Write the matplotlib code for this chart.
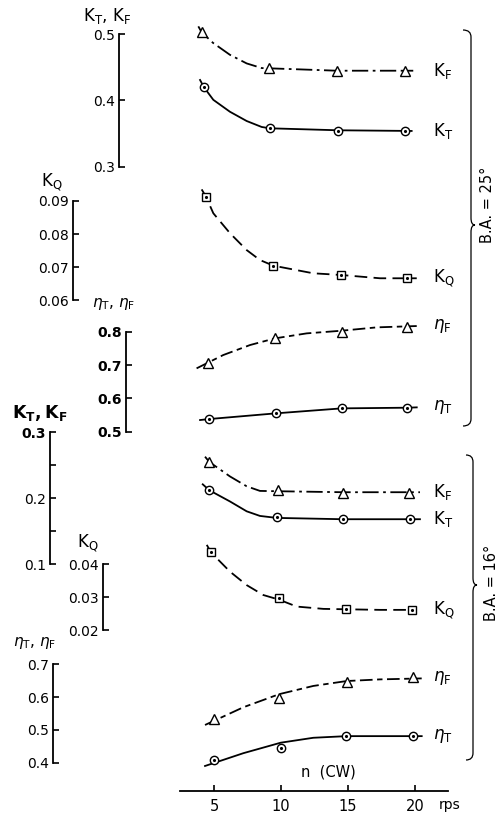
import matplotlib.pyplot as plt
from matplotlib.path import Path
from matplotlib.patches import PathPatch
from matplotlib.transforms import Affine2D


# ---- data (n in rps) ----
# B.A. = 25 deg
kf25_n = [4.08, 9.10, 14.16, 19.25]
kf25 = [0.503, 0.449, 0.445, 0.445]
kf25_fit_n = [3.83, 4.08, 4.93, 6.19, 7.44, 8.56, 11.42, 14.16, 19.87]
kf25_fit = [0.512, 0.503, 0.487, 0.469, 0.456, 0.449, 0.447, 0.445, 0.445]

kt25_n = [4.25, 9.18, 14.28, 19.25]
kt25 = [0.420, 0.358, 0.354, 0.354]
kt25_fit_n = [3.96, 4.25, 4.95, 6.19, 7.44, 8.56, 9.18, 14.28, 19.75]
kt25_fit = [0.431, 0.420, 0.401, 0.383, 0.369, 0.360, 0.358, 0.355, 0.354]

kq25_n = [4.40, 9.43, 14.48, 19.38]
kq25 = [0.0913, 0.0705, 0.0677, 0.0667]
kq25_fit_n = [4.08, 4.40, 4.95, 6.19, 7.44, 8.43, 9.43, 12.41, 14.48, 17.39, 20.13]
kq25_fit = [0.0935, 0.0913, 0.0863, 0.0803, 0.0752, 0.0722, 0.0705, 0.0682, 0.0677, 0.0667, 0.0667]

etaf25_n = [4.57, 9.55, 14.53, 19.43]
etaf25 = [0.707, 0.780, 0.800, 0.815]
etaf25_fit_n = [3.70, 5.69, 7.69, 9.55, 11.92, 14.53, 17.14, 20.13]
etaf25_fit = [0.690, 0.730, 0.760, 0.780, 0.795, 0.803, 0.813, 0.817]

etat25_n = [4.65, 9.60, 14.53, 19.43]
etat25 = [0.538, 0.555, 0.570, 0.572]
etat25_fit_n = [3.96, 4.65, 9.60, 14.53, 19.43, 20.13]
etat25_fit = [0.535, 0.538, 0.555, 0.570, 0.572, 0.573]

# B.A. = 16 deg
kf16_n = [4.65, 9.75, 14.65, 19.57]
kf16 = [0.255, 0.212, 0.208, 0.208]
kf16_fit_n = [4.33, 4.65, 6.19, 7.44, 8.43, 9.75, 14.65, 20.37]
kf16_fit = [0.263, 0.255, 0.233, 0.218, 0.211, 0.2105, 0.209, 0.209]

kt16_n = [4.65, 9.68, 14.60, 19.63]
kt16 = [0.212, 0.172, 0.168, 0.168]
kt16_fit_n = [4.16, 4.65, 6.19, 7.44, 8.43, 9.68, 14.60, 20.37]
kt16_fit = [0.221, 0.212, 0.195, 0.180, 0.173, 0.170, 0.168, 0.168]

kq16_n = [4.78, 9.85, 14.83, 19.80]
kq16 = [0.0435, 0.0296, 0.0264, 0.0261]
kq16_fit_n = [4.46, 4.78, 6.19, 7.44, 8.68, 9.85, 11.17, 13.16, 17.39, 20.13]
kq16_fit = [0.0458, 0.0435, 0.0377, 0.0336, 0.0306, 0.0292, 0.0271, 0.0264, 0.0261, 0.0261]

etaf16_n = [5.0, 9.87, 14.9, 19.83]
etaf16 = [0.532, 0.596, 0.647, 0.660]
etaf16_fit_n = [4.33, 7.19, 9.87, 12.41, 14.9, 17.39, 20.5]
etaf16_fit = [0.515, 0.569, 0.609, 0.634, 0.649, 0.654, 0.657]

etat16_n = [5.0, 9.98, 14.85, 19.83]
etat16 = [0.408, 0.444, 0.481, 0.481]
etat16_fit_n = [4.33, 7.19, 9.98, 12.41, 14.9, 20.5]
etat16_fit = [0.390, 0.429, 0.461, 0.476, 0.481, 0.481]

x_ticks = [5, 10, 15, 20]

# line styles
ls_kf = (0, (9, 2.5, 1.5, 2.5))
ls_kq = (0, (7, 3.5))
ls_etaf = (0, (7, 2.5, 3, 2.5))

W, H = 501, 813
fig = plt.figure(figsize=(W / 100, H / 100), dpi=100)
# pixel coordinates (origin top left) -> figure
px = Affine2D().scale(1 / W, -1 / H).translate(0, 1) + fig.transFigure

AX_L, AX_R = 180, 448
x_lim = (2.463, 22.463)


def make_scale(top, bottom, lo, hi, spine_x, ticks, labels, bold=False):
    ax = fig.add_axes([AX_L / W, 1 - bottom / H, (AX_R - AX_L) / W, (bottom - top) / H])
    ax.patch.set_visible(False)
    ax.set_xlim(*x_lim)
    ax.set_ylim(lo, hi)
    for s in ['top', 'right', 'bottom']:
        ax.spines[s].set_visible(False)
    ax.spines['left'].set_position(('axes', (spine_x - AX_L) / (AX_R - AX_L)))
    ax.spines['left'].set_linewidth(1.3)
    ax.set_xticks([])
    ax.set_yticks(ticks)
    ax.set_yticklabels(labels, fontweight='bold' if bold else 'normal')
    ax.tick_params(axis='y', direction='in', length=4, width=1.2, pad=3, labelsize=10)
    return ax


def draw(ax, fit_n, fit_v, n, v, marker, ls, label):
    ax.plot(fit_n, fit_v, color='black', lw=1.3, linestyle=ls, clip_on=False, zorder=2)
    ax.plot(n, v, linestyle='none', marker=marker, ms=6 if marker != '^' else 6.5,
            mfc='white', mec='black', mew=1, clip_on=False, zorder=3)
    if marker in ('o', 's'):
        ax.plot(n, v, linestyle='none', marker='.', ms=2.5, color='black', clip_on=False, zorder=4)
    ax.text(21.35, fit_v[-1], label, ha='left', va='center', fontsize=12)


ax1 = make_scale(34.3, 166.7, 0.3, 0.5, 119.5, [0.3, 0.4, 0.5], ['0.3', '0.4', '0.5'])
ax2 = make_scale(201, 300.5, 0.06, 0.09, 72.7, [0.06, 0.07, 0.08, 0.09],
                 ['0.06', '0.07', '0.08', '0.09'])
ax3 = make_scale(331.7, 431.7, 0.5, 0.8, 126, [0.5, 0.6, 0.7, 0.8],
                 ['0.5', '0.6', '0.7', '0.8'], bold=True)
ax4 = make_scale(432.3, 564, 0.1, 0.3, 50, [0.1, 0.15, 0.2, 0.25, 0.3],
                 ['0.1', '', '0.2', '', '0.3'])
ax5 = make_scale(564, 630, 0.02, 0.04, 103.3, [0.02, 0.03, 0.04], ['0.02', '0.03', '0.04'])
ax6 = make_scale(664.3, 762.7, 0.4, 0.7, 53.3, [0.4, 0.5, 0.6, 0.7], ['0.4', '0.5', '0.6', '0.7'])
ax4.get_yticklabels()[-1].set_fontweight('bold')

draw(ax1, kf25_fit_n, kf25_fit, kf25_n, kf25, '^', ls_kf, r'K$_{\rm F}$')
draw(ax1, kt25_fit_n, kt25_fit, kt25_n, kt25, 'o', '-', r'K$_{\rm T}$')
draw(ax2, kq25_fit_n, kq25_fit, kq25_n, kq25, 's', ls_kq, r'K$_{\rm Q}$')
draw(ax3, etaf25_fit_n, etaf25_fit, etaf25_n, etaf25, '^', ls_etaf, r'$\eta_{\rm F}$')
draw(ax3, etat25_fit_n, etat25_fit, etat25_n, etat25, 'o', '-', r'$\eta_{\rm T}$')

draw(ax4, kf16_fit_n, kf16_fit, kf16_n, kf16, '^', ls_kf, r'K$_{\rm F}$')
draw(ax4, kt16_fit_n, kt16_fit, kt16_n, kt16, 'o', '-', r'K$_{\rm T}$')
draw(ax5, kq16_fit_n, kq16_fit, kq16_n, kq16, 's', ls_kq, r'K$_{\rm Q}$')
draw(ax6, etaf16_fit_n, etaf16_fit, etaf16_n, etaf16, '^', ls_etaf, r'$\eta_{\rm F}$')
draw(ax6, etat16_fit_n, etat16_fit, etat16_n, etat16, 'o', '-', r'$\eta_{\rm T}$')

# shared n axis at the bottom
ax6.spines['bottom'].set_visible(True)
ax6.spines['bottom'].set_position(('outward', 20.4))
ax6.spines['bottom'].set_linewidth(1.3)
ax6.set_xticks(x_ticks)
ax6.set_xticklabels([str(t) for t in x_ticks])
ax6.tick_params(axis='x', direction='in', length=4.5, width=1.2, pad=5.5, labelsize=10.5)

# scale names
fig.text(107, 16, r'K$_{\rm T}$, K$_{\rm F}$', transform=px, ha='center', va='center', fontsize=12)
fig.text(52, 182, r'K$_{\rm Q}$', transform=px, ha='center', va='center', fontsize=12)
fig.text(114, 304, r'$\eta_{\rm T}$, $\eta_{\rm F}$', transform=px, ha='center', va='center', fontsize=11)
fig.text(40, 413, r'$\mathbf{K_{T}, K_{F}}$', transform=px, ha='center', va='center', fontsize=12.5)
fig.text(88, 543, r'K$_{\rm Q}$', transform=px, ha='center', va='center', fontsize=12)
fig.text(35, 643, r'$\eta_{\rm T}$, $\eta_{\rm F}$', transform=px, ha='center', va='center', fontsize=11)

fig.text(328, 772, 'n  (CW)', transform=px, ha='center', va='center', fontsize=10.5)
fig.text(450, 805, 'rps', transform=px, ha='center', va='center', fontsize=10)


def brace(x0, x1, x2, ytop, ymid, ybot):
    r = 7
    verts = [(x0, ytop), (x1, ytop), (x1, ytop + r),
             (x1, ymid - r), (x1, ymid), (x2, ymid),
             (x1, ymid), (x1, ymid + r),
             (x1, ybot - r), (x1, ybot), (x0, ybot)]
    codes = [Path.MOVETO, Path.CURVE3, Path.CURVE3, Path.LINETO, Path.CURVE3, Path.CURVE3,
             Path.CURVE3, Path.CURVE3, Path.LINETO, Path.CURVE3, Path.CURVE3]
    fig.add_artist(PathPatch(Path(verts, codes), transform=px, fill=False, lw=0.9, color='black'))


brace(463, 471, 475, 30, 225, 426)
brace(466, 473, 477, 455, 585, 760)
fig.text(488, 205, 'B.A. = 25°', transform=px, rotation=90, ha='center', va='center', fontsize=10.5)
fig.text(492, 583, 'B.A. = 16°', transform=px, rotation=90, ha='center', va='center', fontsize=10.5)

fig.savefig('out.png', dpi=100)
